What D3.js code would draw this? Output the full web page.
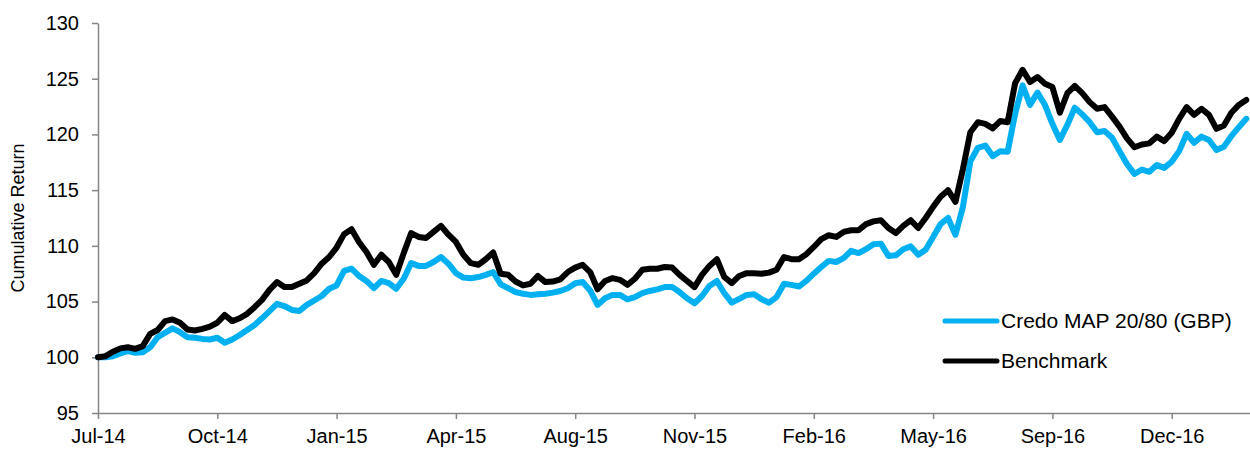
<!DOCTYPE html>
<html lang="en">
<head>
    <meta charset="UTF-8">
    <title>Cumulative Return</title>
    <style>
        body {
            margin: 0;
            padding: 0;
            background: #fff;
            font-family: 'Liberation Sans', Arial, sans-serif;
            overflow: hidden;
        }
        .axis path, .axis line {
            stroke: #868686;
            stroke-width: 1.5px;
        }
        .axis text {
            font-family: 'Liberation Sans', Arial, sans-serif;
            font-size: 20px;
            fill: #000;
        }
        .line {
            fill: none;
            stroke-width: 6px;
            stroke-linejoin: round;
            stroke-linecap: round;
        }
        .legend text {
            font-size: 21px;
        }
    </style>
</head>
<body>
    <svg id="chart"></svg>

    <script src="https://d3js.org/d3.v7.min.js"></script>
    <script>
        // tick labels sit every 16 points along the series
        const tickLabels = ["Jul-14", "Oct-14", "Jan-15", "Apr-15", "Aug-15", "Nov-15", "Feb-16", "May-16", "Sep-16", "Dec-16"];
        const tickIdx = [0, 16, 32, 48, 64, 80, 96, 112, 128, 144];
        const yTicks = [95, 100, 105, 110, 115, 120, 125, 130];

        const seriesNames = ["Credo MAP 20/80 (GBP)", "Benchmark"];

        const credo = [
            100.0, 100.0, 100.1, 100.35, 100.55, 100.4, 100.45, 100.9, 101.8, 102.2,
            102.6, 102.25, 101.8, 101.75, 101.65, 101.6, 101.75, 101.3, 101.6, 102.0,
            102.45, 102.9, 103.5, 104.15, 104.8, 104.6, 104.25, 104.15, 104.7, 105.1,
            105.5, 106.15, 106.45, 107.75, 107.95, 107.3, 106.85, 106.2, 106.85, 106.65,
            106.15, 107.05, 108.45, 108.2, 108.2, 108.55, 109.0, 108.4, 107.55, 107.15,
            107.1, 107.2, 107.4, 107.65, 106.55, 106.2, 105.85, 105.7, 105.6, 105.65,
            105.7, 105.8, 105.95, 106.2, 106.65, 106.75, 106.0, 104.7, 105.3, 105.6,
            105.6, 105.2, 105.4, 105.75, 105.95, 106.1, 106.3, 106.3, 105.85, 105.3,
            104.85, 105.5, 106.4, 106.85, 105.75, 104.9, 105.25, 105.6, 105.65, 105.2,
            104.9, 105.4, 106.6, 106.5, 106.35, 106.85, 107.5, 108.1, 108.65, 108.55,
            108.9, 109.55, 109.35, 109.7, 110.15, 110.2, 109.1, 109.15, 109.7, 109.95,
            109.2, 109.65, 110.8, 111.95, 112.5, 111.0, 113.5, 117.6, 118.8, 119.0,
            118.05, 118.5, 118.45, 121.85, 124.4, 122.65, 123.75, 122.65, 120.95, 119.5,
            120.85, 122.4, 121.8, 121.1, 120.2, 120.3, 119.7, 118.5, 117.35, 116.45,
            116.85, 116.65, 117.25, 117.0, 117.55, 118.5, 120.05, 119.25, 119.8, 119.5,
            118.6, 118.9, 119.85, 120.65, 121.4
        ];

        const benchmark = [
            100.0, 100.1, 100.5, 100.8, 100.9, 100.75, 101.0, 102.1, 102.45, 103.25,
            103.4, 103.1, 102.5, 102.4, 102.55, 102.75, 103.1, 103.8, 103.25, 103.5,
            103.9, 104.5, 105.15, 106.05, 106.75, 106.3, 106.3, 106.6, 106.9, 107.55,
            108.4, 109.0, 109.85, 111.05, 111.5, 110.35, 109.45, 108.3, 109.2, 108.55,
            107.4, 109.35, 111.15, 110.8, 110.7, 111.25, 111.8, 111.0, 110.35, 109.2,
            108.45, 108.3, 108.8, 109.4, 107.5, 107.4, 106.8, 106.45, 106.6, 107.3,
            106.75, 106.8, 107.0, 107.65, 108.05, 108.3, 107.65, 106.1, 106.85, 107.1,
            106.95, 106.5, 107.05, 107.85, 107.95, 107.95, 108.1, 108.05, 107.4, 106.85,
            106.3, 107.4, 108.2, 108.8, 107.2, 106.65, 107.3, 107.55, 107.55, 107.5,
            107.6, 107.85, 109.0, 108.8, 108.8, 109.25, 109.9, 110.6, 110.95, 110.8,
            111.25, 111.4, 111.4, 111.95, 112.2, 112.3, 111.6, 111.15, 111.8, 112.3,
            111.6, 112.5, 113.5, 114.4, 115.0, 113.95, 116.9, 120.2, 121.1, 120.95,
            120.55, 121.2, 121.1, 124.6, 125.8, 124.7, 125.15, 124.55, 124.25, 121.95,
            123.7, 124.35, 123.7, 122.9, 122.3, 122.45, 121.6, 120.7, 119.65, 118.85,
            119.1, 119.2, 119.8, 119.4, 120.15, 121.4, 122.45, 121.75, 122.3, 121.75,
            120.5, 120.8, 121.95, 122.65, 123.1
        ];

        const colors = ["#00B0F0", "#000000"];

        const W = 1250, H = 450;
        const margin = {top: 23, right: 0, bottom: 37, left: 98};

        const svg = d3.select("#chart")
            .attr("width", W)
            .attr("height", H);

        const x = d3.scaleLinear()
            .domain([0, 154.5])
            .range([margin.left, W - margin.right]);
        const y = d3.scaleLinear()
            .domain([95, 130])
            .range([H - margin.bottom, margin.top]);

        // y axis
        svg.append("g")
            .attr("class", "axis")
            .attr("transform", `translate(${margin.left},0)`)
            .call(d3.axisLeft(y).tickValues(yTicks).tickSize(6).tickSizeOuter(0).tickPadding(13));

        // x axis
        svg.append("g")
            .attr("class", "axis")
            .attr("transform", `translate(0,${H - margin.bottom})`)
            .call(d3.axisBottom(x)
                .tickValues(tickIdx)
                .tickSize(6)
                .tickSizeOuter(0)
                .tickPadding(10)
                .tickFormat((d, i) => tickLabels[i]));

        // axis title
        svg.append("text")
            .attr("transform", `translate(24,${(margin.top + H - margin.bottom) / 2}) rotate(-90)`)
            .attr("text-anchor", "middle")
            .style("font-size", "18px")
            .text("Cumulative Return");

        const line = d3.line()
            .x((d, i) => x(i))
            .y(d => y(d));

        [credo, benchmark].forEach((s, k) => {
            svg.append("path")
                .datum(s)
                .attr("class", "line")
                .attr("stroke", colors[k])
                .attr("d", line);
        });

        // legend
        const legend = svg.append("g").attr("class", "legend");
        seriesNames.forEach((name, k) => {
            const ly = 321 + k * 40;
            legend.append("line")
                .attr("x1", 945).attr("x2", 997)
                .attr("y1", ly).attr("y2", ly)
                .attr("stroke", colors[k])
                .attr("stroke-width", 5)
                .attr("stroke-linecap", "round");
            legend.append("text")
                .attr("x", 1001)
                .attr("y", ly)
                .attr("dy", "0.35em")
                .text(name);
        });
    </script>
</body>
</html>
